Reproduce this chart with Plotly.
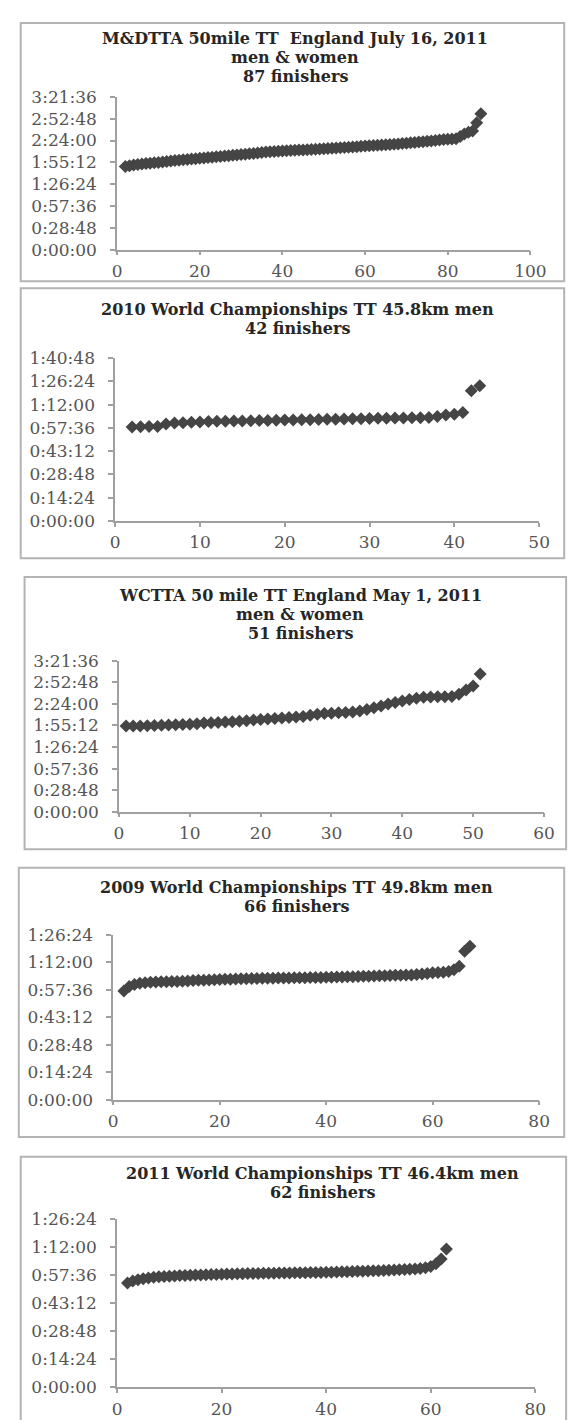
import plotly.graph_objects as go

W, H = 577, 1420

# ---------------- data (finishing times in seconds, by finishing position) ----------------
p1_pos = list(range(2, 89))
p1_sec = [6590, 6650, 6700, 6740, 6780, 6820, 6850, 6880, 6910, 6950,
          6990, 7020, 7050, 7080, 7110, 7140, 7170, 7200, 7230, 7260,
          7290, 7320, 7350, 7380, 7410, 7440, 7470, 7500, 7530, 7560,
          7590, 7620, 7650, 7690, 7730, 7760, 7780, 7800, 7820, 7840,
          7860, 7870, 7890, 7900, 7920, 7930, 7950, 7970, 7990, 8010,
          8030, 8050, 8070, 8090, 8110, 8130, 8150, 8180, 8210, 8230,
          8250, 8270, 8290, 8310, 8330, 8350, 8370, 8400, 8430, 8460,
          8490, 8520, 8550, 8580, 8610, 8650, 8690, 8720, 8740, 8760,
          8790, 8950, 9150, 9300, 9400, 10050, 10750]

p2_pos = list(range(2, 44))
p2_sec = [3490, 3500, 3505, 3510, 3600, 3640, 3650, 3660, 3670, 3690,
          3700, 3705, 3710, 3715, 3720, 3725, 3730, 3740, 3745, 3750,
          3755, 3760, 3765, 3775, 3780, 3785, 3790, 3795, 3805, 3810,
          3815, 3820, 3825, 3830, 3835, 3840, 3880, 3930, 3960, 4030,
          4840, 5020]

p3_pos = list(range(1, 52))
p3_sec = [6860, 6860, 6870, 6880, 6900, 6920, 6940, 6960, 6980, 7000,
          7040, 7100, 7130, 7160, 7190, 7220, 7260, 7300, 7350, 7400,
          7440, 7480, 7520, 7560, 7600, 7640, 7740, 7820, 7870, 7900,
          7930, 7960, 8000, 8080, 8200, 8330, 8480, 8640, 8760, 8880,
          9000, 9100, 9170, 9200, 9210, 9220, 9230, 9420, 9760, 10080,
          11030]

p4_pos = list(range(2, 68))
p4_sec = [3420, 3560, 3620, 3660, 3680, 3690, 3700, 3705, 3710, 3715,
          3720, 3725, 3735, 3745, 3755, 3760, 3765, 3770, 3780, 3785,
          3790, 3795, 3800, 3805, 3810, 3815, 3818, 3820, 3822, 3825,
          3828, 3830, 3832, 3835, 3838, 3840, 3843, 3846, 3850, 3853,
          3856, 3860, 3865, 3870, 3875, 3880, 3885, 3890, 3895, 3900,
          3905, 3910, 3915, 3920, 3925, 3935, 3950, 3970, 3990, 4000,
          4010, 4030, 4090, 4200, 4670, 4830]

p5_pos = list(range(2, 64))
p5_sec = [3210, 3270, 3310, 3340, 3365, 3385, 3400, 3410, 3420, 3430,
          3440, 3445, 3450, 3455, 3460, 3465, 3470, 3475, 3480, 3485,
          3490, 3495, 3498, 3500, 3503, 3506, 3509, 3512, 3515, 3518,
          3520, 3522, 3525, 3528, 3530, 3532, 3534, 3536, 3540, 3545,
          3550, 3555, 3560, 3565, 3570, 3575, 3580, 3585, 3590, 3598,
          3605, 3612, 3620, 3628, 3636, 3645, 3660, 3680, 3720, 3800,
          3950, 4260]

titles = [
    ["M&DTTA 50mile TT  England July 16, 2011", "men & women", "87 finishers"],
    ["2010 World Championships TT 45.8km men", "42 finishers"],
    ["WCTTA 50 mile TT England May 1, 2011", "men & women", "51 finishers"],
    ["2009 World Championships TT 49.8km men", "66 finishers"],
    ["2011 World Championships TT 46.4km men", "62 finishers"],
]
x_max = [100, 50, 60, 80, 80]
x_step = [20, 10, 10, 20, 20]
y_max = [12096, 6048, 12096, 5184, 5184]
y_step = [1728, 864, 1728, 864, 864]
series = [(p1_pos, p1_sec), (p2_pos, p2_sec), (p3_pos, p3_sec),
          (p4_pos, p4_sec), (p5_pos, p5_sec)]

# ---------------- layout geometry (pixels) ----------------
boxes = [(8, 5, 572, 267), (8, 274, 572, 548), (12, 567, 574, 843),
         (6, 862, 572, 1135), (8, 1155, 574, 1430)]
plots = [(108, 80, 537, 235), (106, 345, 546, 510), (110, 652, 551, 805),
         (104, 930, 546, 1097), (108, 1218, 542, 1389)]
title_cx = [293, 295, 298, 294, 321]
title_ys = [[21, 40, 59], [296, 315], [586, 605, 624], [882, 901], [1172, 1191]]


def hms(s):
    s = int(round(s))
    return f"{s // 3600}:{(s % 3600) // 60:02d}:{s % 60:02d}"


def fx(px):
    return px / W


def fy(py):
    return 1 - py / H


TICKFONT = dict(family="DejaVu Serif", size=17, color="#555555")
TITLEFONT = dict(family="DejaVu Serif", size=16, color="#262626", weight="bold")
AXCOL = "#a0a0a0"

fig = go.Figure()
shapes = []
annotations = []

for i in range(5):
    n = i + 1
    xs, ys = series[i]
    fig.add_trace(go.Scatter(
        x=xs, y=ys, mode="markers",
        marker=dict(symbol="diamond", size=10, color="#454545", line=dict(width=0)),
        xaxis=f"x{n}", yaxis=f"y{n}", showlegend=False, hoverinfo="skip"))

    x0, y0, x1, y1 = plots[i]
    yt = list(range(0, y_max[i] + 1, y_step[i]))
    xt = list(range(0, x_max[i] + 1, x_step[i]))
    xa = dict(domain=[fx(x0), fx(x1)], range=[0, x_max[i]], anchor=f"y{n}",
              tickmode="array", tickvals=xt, ticktext=[str(v) for v in xt],
              showline=True, linecolor=AXCOL, linewidth=1.5, ticks="outside",
              ticklen=4, tickcolor=AXCOL, tickwidth=1.5, showgrid=False,
              zeroline=False, tickfont=TICKFONT, ticklabelstandoff=1)
    ya = dict(domain=[fy(y1), fy(y0)], range=[0, y_max[i]], anchor=f"x{n}",
              tickmode="array", tickvals=yt, ticktext=[hms(v) for v in yt],
              showline=True, linecolor=AXCOL, linewidth=1.5, ticks="outside",
              ticklen=5, tickcolor=AXCOL, tickwidth=1.5, showgrid=False,
              zeroline=False, tickfont=TICKFONT, ticklabelstandoff=10)
    fig.update_layout({f"xaxis{n}": xa, f"yaxis{n}": ya})

    bx0, by0, bx1, by1 = boxes[i]
    shapes.append(dict(type="rect", xref="paper", yref="paper",
                       x0=fx(bx0), x1=fx(bx1), y0=fy(by1), y1=fy(by0),
                       line=dict(color="#b4b4b4", width=2), fillcolor="rgba(0,0,0,0)"))
    for line_text, ly in zip(titles[i], title_ys[i]):
        annotations.append(dict(text=line_text, xref="paper", yref="paper",
                                x=fx(title_cx[i]), y=fy(ly), xanchor="center",
                                yanchor="middle", showarrow=False, font=TITLEFONT))

fig.update_layout(width=W, height=H, margin=dict(l=0, r=0, t=0, b=0),
                  paper_bgcolor="white", plot_bgcolor="white",
                  shapes=shapes, annotations=annotations, showlegend=False)

fig.write_html("out.html")
